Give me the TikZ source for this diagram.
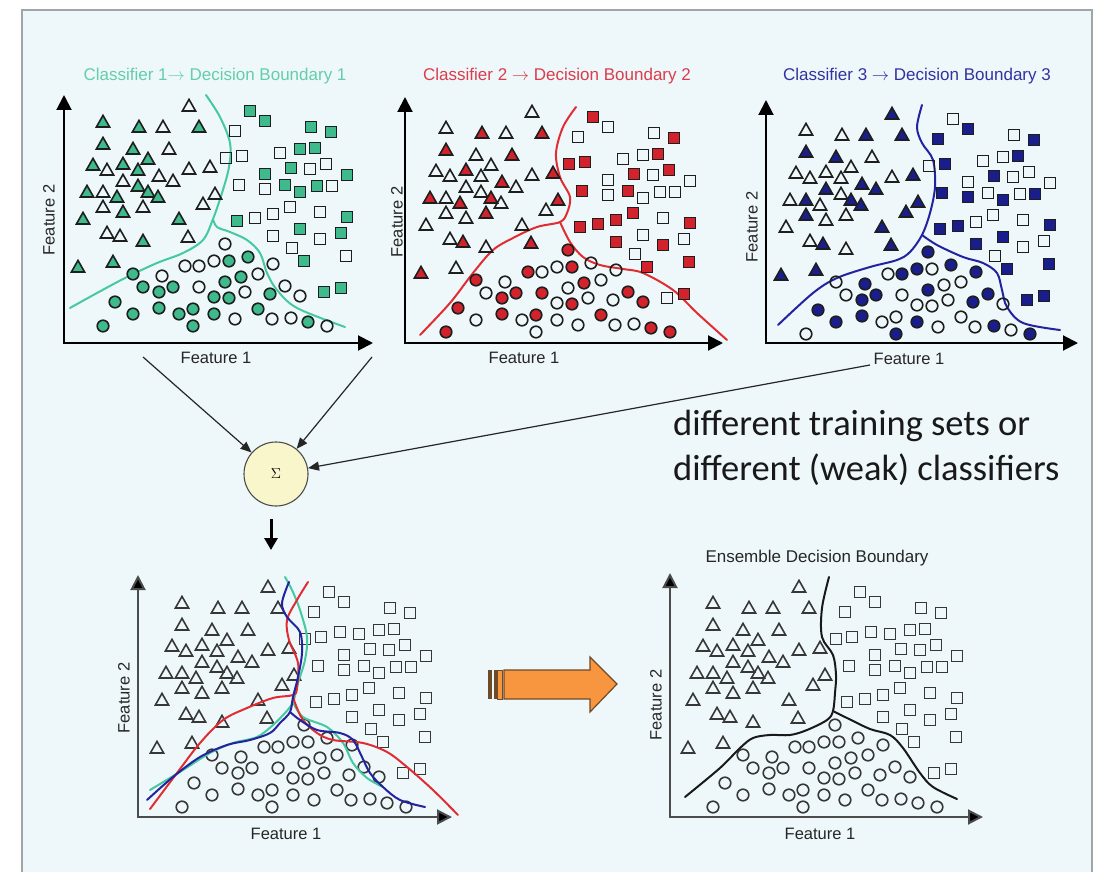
\documentclass[tikz,border=0pt]{standalone}
\usepackage{fontspec}
\setmainfont{Liberation Sans}
\newfontfamily\notefont{Carlito}
\usetikzlibrary{arrows.meta}

\definecolor{bg}{RGB}{238,248,251}
\definecolor{framec}{RGB}{160,165,168}
\definecolor{tealfill}{RGB}{62,186,140}
\definecolor{tealtxt}{RGB}{100,205,170}
\definecolor{tealline}{RGB}{70,200,160}
\definecolor{redfill}{RGB}{210,35,45}
\definecolor{redtxt}{RGB}{220,60,75}
\definecolor{redline}{RGB}{225,45,50}
\definecolor{bluefill}{RGB}{25,30,140}
\definecolor{bluetxt}{RGB}{50,50,160}
\definecolor{blueline}{RGB}{35,35,160}
\definecolor{sigfill}{RGB}{250,246,204}
\definecolor{orangefill}{RGB}{247,150,62}
\definecolor{orangeedge}{RGB}{110,75,40}
\definecolor{markc}{RGB}{30,30,30}
\definecolor{markg}{RGB}{55,55,55}

% shared data set: offset right / offset up from the data origin, shape,
% and fill flags for classifier 1, 2, 3 (9 = only in the lower plots)
\def\ptlist{%
129/230/t/0/0/1,
43/214/t/1/0/0,
79/209/t/1/1/0,
103/209/t/0/0/1,
139/209/t/1/1/1,
43/192/t/1/1/1,
73/187/t/1/0/1,
109/187/t/0/1/0,
88/177/t/1/0/0,
33/171/t/1/0/0,
47/166/t/0/0/0,
63/172/t/1/1/0,
78/166/t/1/0/0,
99/160/t/0/1/1,
113/155/t/0/0/1,
129/167/t/0/0/0,
150/169/t/0/1/1,
63/155/t/0/0/1,
78/150/t/1/0/0,
88/144/t/1/1/1,
98/139/t/1/0/1,
27/144/t/1/1/0,
43/144/t/0/0/1,
57/139/t/1/1/0,
155/142/t/0/1/1,
143/132/t/0/0/1,
43/129/t/0/0/1,
63/124/t/1/0/0,
83/129/t/0/1/0,
23/117/t/1/0/0,
119/117/t/1/0/1,
128/99/t/0/1/1,
47/103/t/0/0/0,
60/100/t/0/1/1,
83/95/t/1/0/0,
18/69/t/1/1/1,
53/74/t/1/0/1,
190/225/s/1/1/0,
205/215/s/1/0/1,
175/205/s/0/0/1,
251/209/s/1/0/0,
271/204/s/1/1/1,
166/178/s/0/1/0,
182/180/s/0/1/1,
201/185/s/9/9/9,
220/183/s/0/0/0,
240/187/s/1/0/0,
255/188/s/1/1/1,
205/162/s/1/0/0,
231/168/s/1/1/1,
250/167/s/0/0/0,
266/172/s/0/1/0,
287/161/s/1/0/0,
179/151/s/0/1/1,
205/147/s/0/0/1,
225/151/s/1/1/0,
240/144/s/1/0/1,
257/150/s/1/0/0,
272/150/s/0/0/1,
230/129/s/0/1/0,
177/115/s/1/1/1,
195/118/s/0/1/1,
213/122/s/0/1/0,
260/124/s/0/0/0,
287/119/s/1/1/1,
213/100/s/0/1/1,
240/107/s/1/0/1,
260/97/s/0/1/0,
281/103/s/1/0/0,
232/88/s/0/0/0,
244/75/s/1/1/1,
286/80/s/0/1/1,
264/44/s/1/0/1,
281/48/s/1/1/1,
165/92/c/0/1/1,
125/70/c/0/1/0,
139/70/c/0/0/1,
154/75/c/0/0/1,
169/75/c/1/1/0,
188/79/c/1/0/1,
213/72/c/0/0/1,
73/62/c/1/1/0,
102/60/c/0/0/1,
83/49/c/1/0/0,
99/44/c/1/1/1,
113/49/c/1/1/1,
139/49/c/0/1/0,
165/54/c/1/0/1,
181/59/c/1/1/0,
198/62/c/0/0/0,
55/34/c/1/1/1,
154/39/c/1/0/0,
169/38/c/1/1/0,
185/44/c/0/0/0,
210/42/c/1/0/1,
225/50/c/0/1/1,
240/40/c/0/1/0,
73/22/c/1/0/1,
99/28/c/1/1/1,
119/22/c/1/0/0,
133/27/c/1/1/0,
154/22/c/1/0/1,
175/17/c/0/0/0,
198/27/c/1/1/0,
133/10/c/1/0/1,
43/10/c/1/1/0,
212/17/c/0/0/0,
231/18/c/0/0/1,
248/14/c/1/1/0,
267/10/c/0/1/1}

% #1,#2 data origin, #3 classifier (0 = none), #4 fill colour, #5 outline colour
\newcommand\scatterset[5]{%
  \foreach \dx/\dy/\shp/\pa/\pb/\pc in \ptlist {%
    \ifcase#3 \def\fl{0}\or\let\fl\pa\or\let\fl\pb\or\let\fl\pc\fi
    \ifnum\fl=1 \def\fcol{#4}\else\def\fcol{none}\fi
    \ifnum\fl<9
      \pgfmathsetmacro\px{#1+\dx}\pgfmathsetmacro\py{#2-\dy}%
      \if\shp t\draw[mk,draw=#5,fill=\fcol] (\px,\py-6.6) -- (\px+6.6,\py+5) -- (\px-6.6,\py+5) -- cycle;\fi
      \if\shp s\draw[mk,draw=#5,fill=\fcol] (\px-5.4,\py-5.4) rectangle (\px+5.4,\py+5.4);\fi
      \if\shp c\draw[mk,draw=#5,fill=\fcol] (\px,\py) circle[radius=5.8pt];\fi
    \fi}}

% axes: #1,#2 corner, #3 top end, #4 right end, #5 line colour
\newcommand\axes[5]{%
  \draw[axis,draw=#5] (#1,#3) -- (#1,#2) -- (#4,#2);}

\begin{document}
\begin{tikzpicture}[x=1pt,y=-1pt,
  mk/.style={line width=1.6pt,line join=miter},
  axis/.style={line width=2pt,{Triangle[length=15pt,width=15pt,fill=black]}-{Triangle[length=15pt,width=15pt,fill=black]}},
  bd/.style={line width=2pt,draw=#1,line cap=round},
  lab/.style={inner sep=0pt,font=\fontsize{16.5}{19}\selectfont,text=black!85},
  ttl/.style={inner sep=0pt,font=\fontsize{17}{20}\selectfont},
  conn/.style={line width=1.2pt,draw=black!85,-{Triangle[length=11pt,width=9pt]}},
  every node/.style={inner sep=0pt}]

\useasboundingbox (0,0) rectangle (1096,872);
\fill[white] (0,0) rectangle (1096,872);
\fill[bg] (22,10) rectangle (1092,872);
\draw[framec,line width=1.5pt] (22,872) -- (22,10) -- (1092,10) -- (1092,872);

% ---------- classifier 1 ----------
\node[ttl,text=tealtxt] (t1) at (215,76) {Classifier 1$\rightarrow$ Decision Boundary 1};
\axes{64}{343}{95}{373}{black}
\draw[bd=tealline] plot[smooth,tension=.55] coordinates {(206,95) (220,117) (230,143) (229,167) (222,193) (213,219) (203,240) (183,253) (157,263) (127,277) (97,293) (70,308)};
\draw[bd=tealline] plot[smooth,tension=.55] coordinates {(213,219) (217,227) (230,232) (247,240) (260,253) (267,273) (277,290) (297,308) (345,327)};
\scatterset{60}{336}{1}{tealfill}{markc}
\node[lab] (x1) at (216,358) {Feature 1};
\node[lab,rotate=90] (y1) at (49,220) {Feature 2};

% ---------- classifier 2 ----------
\node[ttl,text=redtxt] (t2) at (557,76) {Classifier 2 $\rightarrow$ Decision Boundary 2};
\axes{405}{343}{97}{723}{black}
\draw[bd=redline] plot[smooth,tension=.55] coordinates {(576,107) (563,127) (556,153) (560,177) (570,197) (567,213) (560,222) (537,227) (513,238) (493,250) (473,273) (450,303) (420,335)};
\draw[bd=redline] plot[smooth,tension=.55] coordinates {(560,222) (570,242) (583,257) (600,265) (623,269) (643,273) (673,290) (697,313) (727,340)};
\scatterset{403}{342}{2}{redfill}{markc}
\node[lab] (x2) at (524,358) {Feature 1};
\node[lab,rotate=90] (y2) at (397,222) {Feature 2};

% ---------- classifier 3 ----------
\node[ttl,text=bluetxt] (t3) at (917,76) {Classifier 3 $\rightarrow$ Decision Boundary 3};
\axes{766}{343}{100}{1078}{black}
\draw[bd=blueline] plot[smooth,tension=.55] coordinates {(922,105) (917,127) (922,143) (933,160) (935,187) (930,213) (922,235) (910,252) (897,260) (870,267) (837,278) (813,293) (778,325)};
\draw[bd=blueline] plot[smooth,tension=.55] coordinates {(922,235) (937,245) (963,257) (983,263) (997,273) (1002,290) (1007,307) (1023,323) (1060,330)};
\scatterset{763}{344}{3}{bluefill}{markc}
\node[lab] (x3) at (909,359) {Feature 1};
\node[lab,rotate=90] (y3) at (752,227) {Feature 2};

% ---------- combination ----------
\node[circle,draw=black!70,line width=1.1pt,fill=sigfill,minimum size=64pt] (sig) at (276,474) {\fontsize{14}{14}\selectfont$\Sigma$};
\coordinate (s1) at (143,357);
\coordinate (s2) at (372,357);
\coordinate (s3) at (870,365);
\draw[conn] (s1) -- (sig);
\draw[conn] (s2) -- (sig);
\draw[conn] (s3) -- (sig);
\coordinate (d0) at (271,519);
\coordinate (d1) at (271,550);
\draw[line width=3pt,-{Triangle[length=12pt,width=13pt]}] (d0) -- (d1);

\node[anchor=west,align=left,font=\notefont\fontsize{36.5}{45}\selectfont,text=black!90] (note) at (673,448)
  {different training sets or\\different (weak) classifiers};

% ---------- all three boundaries ----------
\axes{138}{817}{575}{452}{black!70}
\scatterset{139}{817}{0}{none}{markg}
\draw[bd=tealline] plot[smooth,tension=.55] coordinates {(285,577) (292,590) (300,610) (307,637) (305,660) (298,683) (293,702) (285,713) (273,725) (257,737) (233,743) (210,753) (183,770) (150,790)};
\draw[bd=tealline] plot[smooth,tension=.55] coordinates {(293,702) (303,717) (327,727) (343,743) (353,763) (367,778) (383,787)};
\draw[bd=redline] plot[smooth,tension=.55] coordinates {(308,582) (297,600) (287,620) (289,640) (298,663) (297,688) (293,695) (273,698) (247,708) (223,720) (200,743) (177,773) (150,809)};
\draw[bd=redline] plot[smooth,tension=.55] coordinates {(293,695) (295,703) (303,720) (317,733) (333,740) (363,743) (387,752) (407,767) (433,790) (458,815)};
\draw[bd=blueline] plot[smooth,tension=.55] coordinates {(289,582) (282,603) (287,617) (300,632) (302,653) (298,677) (293,697) (290,712) (280,723) (270,733) (250,740) (227,745) (200,757) (173,777) (147,800)};
\draw[bd=blueline] plot[smooth,tension=.55] coordinates {(290,712) (300,720) (317,730) (340,733) (353,740) (362,757) (370,773) (383,787) (400,800) (425,807)};
\node[lab] (x4) at (286,834) {Feature 1};
\node[lab,rotate=90] (y4) at (124,698) {Feature 2};

% ---------- orange arrow ----------
\draw[orangeedge,line width=1.2pt,fill=orangefill,line join=miter]
  (504,670) -- (590,670) -- (590,657) -- (617,684) -- (590,712) -- (590,699) -- (504,699) -- cycle;
\fill[orangeedge] (488,670) rectangle (492,699);
\fill[orangeedge] (494,670) rectangle (497,699);
\fill[orangefill] (497,670) rectangle (502,699);
\draw[orangeedge,line width=1pt] (497,670) rectangle (502,699);

% ---------- ensemble ----------
\node[ttl,text=black!85] (t5) at (817,558) {Ensemble Decision Boundary};
\axes{670}{817}{573}{983}{black!70}
\scatterset{670}{817}{0}{none}{markg}
\draw[line width=2pt,black!90,line cap=round] plot[smooth,tension=.55] coordinates {(829,577) (822,608) (822,637) (833,655) (836,675) (835,693) (833,711) (827,720) (807,730) (790,735) (770,735) (753,738) (740,748) (720,768) (685,797)};
\draw[line width=2pt,black!90,line cap=round] plot[smooth,tension=.55] coordinates {(833,711) (847,718) (870,729) (890,735) (903,748) (920,773) (933,787) (957,799)};
\node[lab] (x5) at (820,834) {Feature 1};
\node[lab,rotate=90] (y5) at (656,705) {Feature 2};
\end{tikzpicture}
\end{document}
